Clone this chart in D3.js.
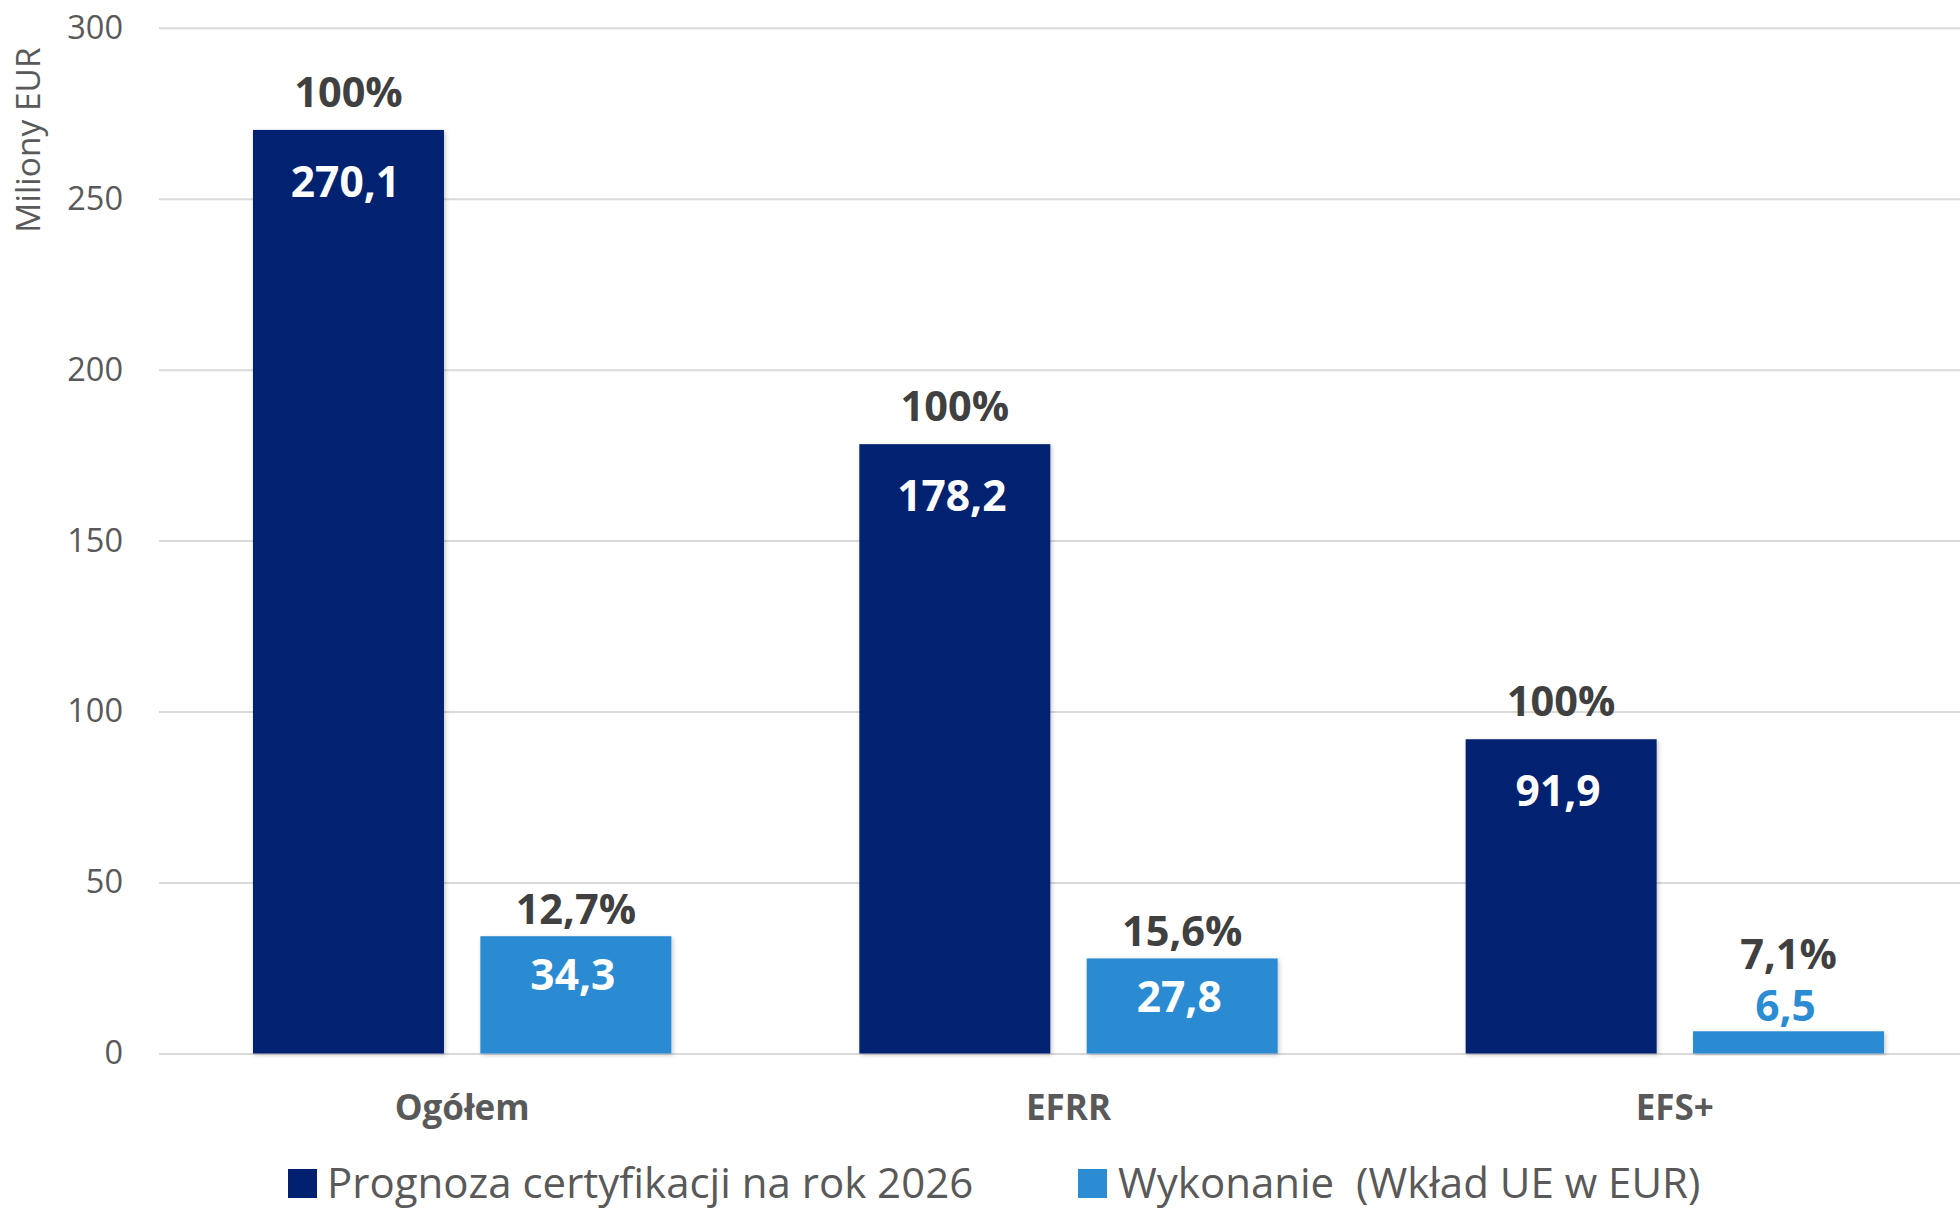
<!DOCTYPE html>
<html>
<head>
<meta charset="utf-8">
<script src="https://cdn.jsdelivr.net/npm/d3@7"></script>
<style>
  body { margin: 0; background: #fff; }
  svg { display: block; font-family: "Open Sans", sans-serif; }
</style>
</head>
<body>
<div id="chart"></div>
<script>
// data
const categories = ["Ogółem", "EFRR", "EFS+"];
const seriesNames = ["Prognoza certyfikacji na rok 2026", "Wykonanie  (Wkład UE w EUR)"];
const prognoza = [270.1, 178.2, 91.9];
const wykonanie = [34.3, 27.8, 6.5];
const prognozaPct = ["100%", "100%", "100%"];
const wykonaniePct = ["12,7%", "15,6%", "7,1%"];
const yTicks = [0, 50, 100, 150, 200, 250, 300];

const colors = ["#012070", "#2b8bd3"];

const width = 1960;
const height = 1209;

const svg = d3
  .select("#chart")
  .append("svg")
  .attr("width", width)
  .attr("height", height);

// soft shadow like the office chart bars
const defs = svg.append("defs");
defs
  .append("filter")
  .attr("id", "shadow")
  .attr("x", "-10%")
  .attr("y", "-10%")
  .attr("width", "120%")
  .attr("height", "120%")
  .append("feDropShadow")
  .attr("dx", 1.5)
  .attr("dy", 1.5)
  .attr("stdDeviation", 2)
  .attr("flood-color", "#000")
  .attr("flood-opacity", 0.22);

// scales
const x0 = d3
  .scaleBand()
  .domain(categories)
  .range([159, 1978])
  .paddingInner(0.31)
  .paddingOuter(0.155);

const x1 = d3
  .scaleBand()
  .domain([0, 1])
  .range([0, x0.bandwidth()])
  .paddingInner(0.16);

const y = d3.scaleLinear().domain([0, 300]).range([1053.5, 27.7]);

// gridlines + y tick labels
const yAxis = d3
  .axisLeft(y)
  .tickValues(yTicks)
  .tickSize(-(1978 - 159))
  .tickPadding(36)
  .tickFormat(d3.format("d"));

const gy = svg.append("g").attr("transform", "translate(159,0)").call(yAxis);
gy.select(".domain").remove();
gy.selectAll(".tick line").attr("stroke", "#d9d9d9").attr("stroke-width", 2);
gy.selectAll(".tick text")
  .attr("fill", "#595959")
  .style("font-size", "32.5px")
  .style("font-family", "'Open Sans', sans-serif");

// y axis title
svg
  .append("text")
  .attr("transform", "translate(40,140) rotate(-90)")
  .attr("text-anchor", "middle")
  .attr("fill", "#595959")
  .style("font-size", "33.5px")
  .text("Miliony EUR");

// bars
const rows = categories.map((c, i) => ({
  cat: c,
  items: [
    { s: 0, value: prognoza[i], pct: prognozaPct[i] },
    { s: 1, value: wykonanie[i], pct: wykonaniePct[i] },
  ],
}));

const groups = svg
  .selectAll(".group")
  .data(rows)
  .enter()
  .append("g")
  .attr("class", "group")
  .attr("transform", (d) => `translate(${x0(d.cat)},0)`);

groups
  .selectAll("rect")
  .data((d) => d.items)
  .enter()
  .append("rect")
  .attr("x", (d) => x1(d.s))
  .attr("y", (d) => y(d.value))
  .attr("width", x1.bandwidth())
  .attr("height", (d) => y(0) - y(d.value))
  .attr("fill", (d) => colors[d.s])
  .attr("filter", "url(#shadow)");

// value labels: inside the bar end, or above it when the bar is too short
groups
  .selectAll(".val")
  .data((d) => d.items)
  .enter()
  .append("text")
  .attr("class", "val")
  .attr("x", (d) => x1(d.s) + x1.bandwidth() / 2 - 3)
  .attr("y", (d) => {
    const top = y(d.value);
    if (y(0) - top < 60) return top - 10;
    return d.s === 0 ? top + 67 : top + 54;
  })
  .attr("text-anchor", "middle")
  .attr("fill", (d) => (y(0) - y(d.value) < 60 ? colors[d.s] : "#fff"))
  .style("font-size", "42.5px")
  .style("font-weight", "bold")
  .text((d) => d3.format(".1f")(d.value).replace(".", ","));

// percentage labels above
groups
  .selectAll(".pct")
  .data((d) => d.items)
  .enter()
  .append("text")
  .attr("class", "pct")
  .attr("x", (d) => x1(d.s) + x1.bandwidth() / 2)
  .attr("y", (d) => {
    const top = y(d.value);
    if (y(0) - top < 60) return top - 62;
    return d.s === 0 ? top - 23 : top - 12;
  })
  .attr("text-anchor", "middle")
  .attr("fill", "#404040")
  .style("font-size", "41.5px")
  .style("font-weight", "bold")
  .text((d) => d.pct);

// category labels
svg
  .selectAll(".cat")
  .data(categories)
  .enter()
  .append("text")
  .attr("class", "cat")
  .attr("x", (d) => x0(d) + x0.bandwidth() / 2)
  .attr("y", 1120)
  .attr("text-anchor", "middle")
  .attr("fill", "#595959")
  .style("font-size", "35px")
  .style("font-weight", "bold")
  .text((d) => d);

// legend
const legendX = [288, 1078];
const legend = svg
  .selectAll(".legend")
  .data(seriesNames)
  .enter()
  .append("g")
  .attr("class", "legend")
  .attr("transform", (d, i) => `translate(${legendX[i]},1169)`);

legend
  .append("rect")
  .attr("width", 29)
  .attr("height", 29)
  .attr("fill", (d, i) => colors[i]);

legend
  .append("text")
  .attr("x", (d, i) => (i === 0 ? 39 : 40))
  .attr("y", 28.5)
  .attr("fill", "#595959")
  .style("font-size", "42px")
  .style("white-space", "pre")
  .text((d) => d);
</script>
</body>
</html>
